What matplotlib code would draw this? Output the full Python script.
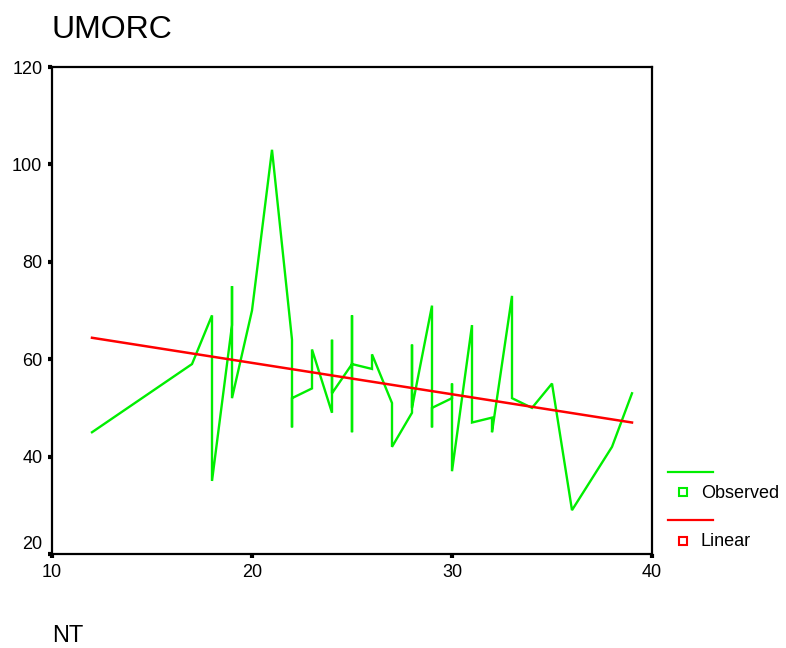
import numpy as np
import matplotlib.pyplot as plt
from matplotlib.lines import Line2D
from matplotlib.transforms import ScaledTranslation

plt.rcParams['font.family'] = ['Liberation Sans', 'DejaVu Sans']

# Observed series (sorted by NT, repeated NT values in data order)
nt = [12, 17, 18, 18, 19, 19, 19, 20, 21, 22, 22, 22, 23, 23,
      24, 24, 24, 25, 25, 25, 25, 26, 26, 27, 27, 28, 28, 28,
      29, 29, 29, 30, 30, 30, 31, 31, 32, 32, 33, 33, 34, 35,
      36, 38, 39]
umorc = [45, 59, 69, 35, 67, 75, 52, 70, 103, 64, 46, 52, 54, 62,
         49, 64, 53, 59, 69, 45, 59, 58, 61, 51, 42, 49, 63, 50,
         71, 46, 50, 52, 55, 37, 67, 47, 48, 45, 73, 52, 50, 55,
         29, 42, 53]

# Linear fit, read at the ends of the NT range
lin_nt = [12, 39]
lin_umorc = [64.4, 47.0]

x_ticks = [10, 20, 30, 40]
y_ticks = [20, 40, 60, 80, 100, 120]

GREEN = '#00ee00'
RED = '#ff0000'


def main():
    fig = plt.figure(figsize=(7.86, 6.48), dpi=100)
    ax = fig.add_axes([52 / 786, 1 - 554 / 648, 600 / 786, 487 / 648])

    ax.plot(nt, umorc, color=GREEN, lw=1.7, solid_joinstyle='miter')
    ax.plot(lin_nt, lin_umorc, color=RED, lw=1.8)

    ax.set_xlim(10, 40)
    ax.set_ylim(20, 120)
    ax.set_xticks(x_ticks)
    ax.set_yticks(y_ticks)
    ax.tick_params(direction='out', length=3, width=3, labelsize=13, pad=4)
    for sp in ax.spines.values():
        sp.set_linewidth(1.6)

    # lowest y label sits a bit above its tick, clear of the x labels
    lab = ax.yaxis.get_major_ticks()[0].label1
    lab.set_transform(lab.get_transform() + ScaledTranslation(0, 8 / 72, fig.dpi_scale_trans))

    # title and axis label as placed by SPSS
    fig.text(52 / 786, 1 - 38 / 648, 'UMORC', fontsize=23, ha='left', va='baseline')
    fig.text(52 / 786, 1 - 642 / 648, 'NT', fontsize=17, ha='left', va='baseline')

    # legend outside the plot, on the right
    W, H = 786, 648
    for col, name, yl, ym in [(GREEN, 'Observed', 472, 492), (RED, 'Linear', 520, 541)]:
        fig.add_artist(Line2D([668 / W, 713 / W], [1 - yl / H, 1 - yl / H],
                              color=col, lw=1.6, transform=fig.transFigure))
        fig.add_artist(Line2D([683 / W], [1 - ym / H], marker='s', ms=6,
                              mfc='white', mec=col, mew=1.5, ls='none',
                              transform=fig.transFigure))
        fig.text(701 / W, 1 - (ym + 1) / H, name, fontsize=13, ha='left', va='center')

    fig.savefig('out.png', dpi=100)


if __name__ == "__main__":
    main()
